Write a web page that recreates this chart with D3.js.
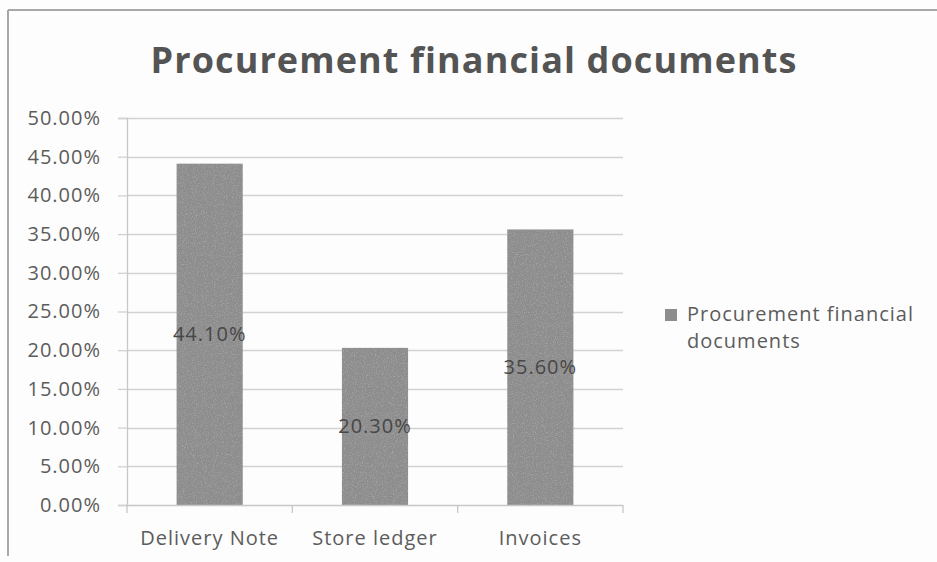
<!DOCTYPE html>
<html>
<head>
<meta charset="utf-8">
<script src="https://cdn.jsdelivr.net/npm/d3@7"></script>
<style>
  html, body { margin: 0; padding: 0; background: #fdfdfd; }
  svg { display: block; font-family: "Open Sans", "Liberation Sans", sans-serif; }
</style>
</head>
<body>
<svg id="chart" width="937" height="562"></svg>
<script>
// Share of procurement financial documents in use
const categories = ["Delivery Note", "Store ledger", "Invoices"];
const shares = [0.441, 0.203, 0.356];
const yTicks = [0, 0.05, 0.10, 0.15, 0.20, 0.25, 0.30, 0.35, 0.40, 0.45, 0.50];
const seriesName = "Procurement financial documents";
const chartTitle = "Procurement financial documents";

const svg = d3.select("#chart");
const W = 937, H = 562;
const plot = { left: 127, right: 623, top: 118, bottom: 505 };
const textColor = "#5c5c5c";
const barColor = "#8d8d8d";

// light grain used on the bar fill
const defs = svg.append("defs");
const grain = defs.append("filter").attr("id", "grain")
  .attr("x", 0).attr("y", 0).attr("width", 1).attr("height", 1);
grain.append("feTurbulence").attr("type", "fractalNoise")
  .attr("baseFrequency", 0.9).attr("numOctaves", 2).attr("seed", 4).attr("result", "noise");
grain.append("feColorMatrix").attr("in", "noise").attr("type", "matrix")
  .attr("values", "0 0 0 0 1  0 0 0 0 1  0 0 0 0 1  0 0 0 0.45 -0.22").attr("result", "speck");
grain.append("feComposite").attr("in", "speck").attr("in2", "SourceGraphic")
  .attr("operator", "in").attr("result", "speckIn");
grain.append("feMerge").call(m => {
  m.append("feMergeNode").attr("in", "SourceGraphic");
  m.append("feMergeNode").attr("in", "speckIn");
});

// outer frame (top and left edges)
svg.append("line").attr("x1", 8).attr("x2", W).attr("y1", 10).attr("y2", 10)
  .attr("stroke", "#a8a8a8").attr("stroke-width", 2);
svg.append("line").attr("x1", 8).attr("x2", 8).attr("y1", 10).attr("y2", 556)
  .attr("stroke", "#a8a8a8").attr("stroke-width", 2);

// title
svg.append("text")
  .attr("x", 474).attr("y", 73)
  .attr("text-anchor", "middle")
  .attr("font-size", 36).attr("font-weight", 700)
  .attr("letter-spacing", 1.1)
  .attr("fill", "#545454")
  .text(chartTitle);

const x = d3.scaleBand()
  .domain(categories)
  .range([plot.left, plot.right])
  .paddingInner(0.6)
  .paddingOuter(0.3);

const y = d3.scaleLinear()
  .domain([0, 0.5])
  .range([plot.bottom, plot.top]);

const pct = d3.format(".2%");

// horizontal gridlines
svg.append("g")
  .selectAll("line")
  .data(yTicks.filter(t => t > 0))
  .join("line")
  .attr("x1", plot.left).attr("x2", plot.right)
  .attr("y1", d => Math.round(y(d)) + 0.5).attr("y2", d => Math.round(y(d)) + 0.5)
  .attr("stroke", "#d2d2d2").attr("stroke-width", 1.3);

// y axis
const yAxis = svg.append("g")
  .attr("transform", `translate(${plot.left},0)`)
  .call(d3.axisLeft(y).tickValues(yTicks).tickFormat(pct).tickSize(9).tickPadding(17));
yAxis.select(".domain").attr("stroke", "#c8c8c8").attr("stroke-width", 1.3);
yAxis.selectAll(".tick line").attr("stroke", "#d2d2d2").attr("stroke-width", 1.3);
yAxis.selectAll(".tick text")
  .attr("font-size", 20).attr("letter-spacing", 1).attr("fill", textColor)
  .attr("font-family", "Open Sans, sans-serif");

// bars
const rows = categories.map((c, i) => ({ c, v: shares[i] }));
svg.append("g")
  .selectAll("rect")
  .data(rows)
  .join("rect")
  .attr("x", d => x(d.c))
  .attr("width", x.bandwidth())
  .attr("y", d => y(d.v))
  .attr("height", d => y(0) - y(d.v))
  .attr("fill", barColor)
  .attr("filter", "url(#grain)");

// x axis with ticks at category boundaries
const xg = svg.append("g");
xg.append("line")
  .attr("x1", plot.left).attr("x2", plot.right)
  .attr("y1", plot.bottom + 0.5).attr("y2", plot.bottom + 0.5)
  .attr("stroke", "#c8c8c8").attr("stroke-width", 1.3);
const bounds = [plot.left]
  .concat(categories.slice(1).map(c => x(c) - x.step() * x.paddingInner() / 2))
  .concat([plot.right]);
xg.selectAll("line.tk")
  .data(bounds)
  .join("line").attr("class", "tk")
  .attr("x1", d => d).attr("x2", d => d)
  .attr("y1", plot.bottom).attr("y2", plot.bottom + 8)
  .attr("stroke", "#c8c8c8").attr("stroke-width", 1.3);
xg.selectAll("text")
  .data(categories)
  .join("text")
  .attr("x", d => x(d) + x.bandwidth() / 2)
  .attr("y", 545)
  .attr("text-anchor", "middle")
  .attr("font-size", 20).attr("letter-spacing", 1).attr("fill", textColor)
  .text(d => d);

// value labels at bar middle
svg.append("g")
  .selectAll("text")
  .data(rows)
  .join("text")
  .attr("x", d => x(d.c) + x.bandwidth() / 2)
  .attr("y", d => y(d.v / 2))
  .attr("dy", "0.35em")
  .attr("text-anchor", "middle")
  .attr("font-size", 20).attr("letter-spacing", 1).attr("fill", "#474747")
  .text(d => pct(d.v));

// legend
const lg = svg.append("g").attr("transform", "translate(665,309)");
lg.append("rect").attr("width", 12).attr("height", 12).attr("fill", barColor);
lg.append("text")
  .attr("x", 22).attr("y", 12)
  .attr("font-size", 20).attr("letter-spacing", 1).attr("fill", textColor)
  .call(t => {
    t.append("tspan").attr("x", 22).text("Procurement financial");
    t.append("tspan").attr("x", 22).attr("dy", 27).text("documents");
  });
</script>
</body>
</html>
